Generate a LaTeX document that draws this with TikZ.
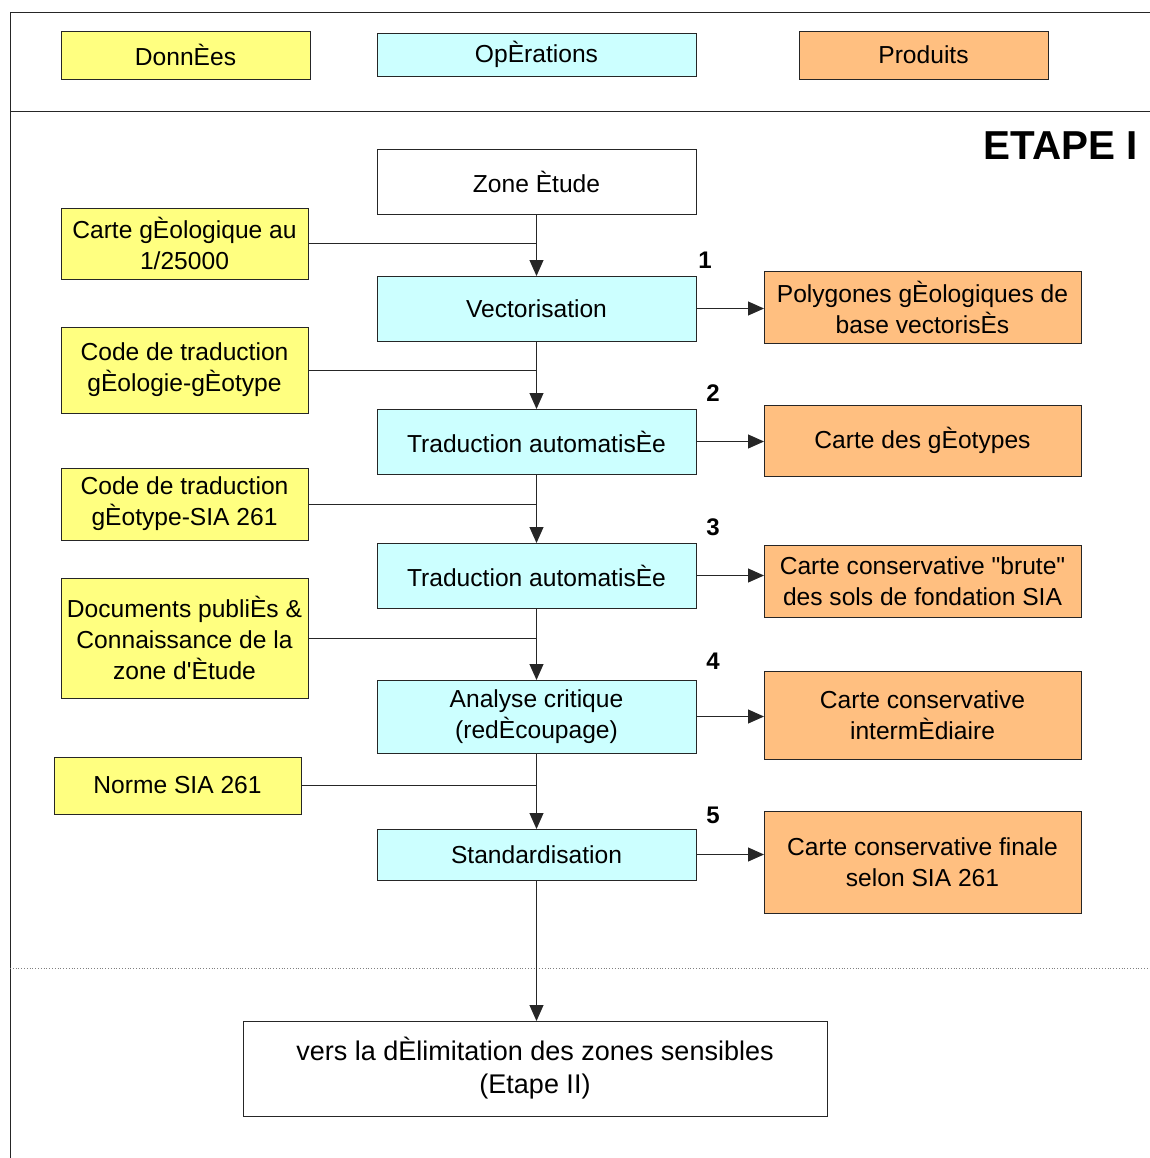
\documentclass[tikz,border=0pt]{standalone}
\usepackage{fontspec}
\setmainfont{Liberation Sans}
\definecolor{donjaune}{HTML}{FFFF80}
\definecolor{opcyan}{HTML}{CCFFFF}
\definecolor{prodorange}{HTML}{FFBF80}
\usetikzlibrary{arrows.meta, positioning}
\tikzset{
	sz/.style 2 args={minimum width=#1*0.5pt, minimum height=#2*0.5pt},
	bnode/.style={draw=black!85, line width=0.5pt, inner sep=0pt, outer sep=0pt,
		align=center, font=\fontsize{12.3}{15.5}\selectfont},
	dnode/.style={bnode, fill=donjaune},
	onode/.style={bnode, fill=opcyan},
	pnode/.style={bnode, fill=prodorange},
	wnode/.style={bnode, fill=white},
	num/.style={font=\fontsize{12}{14}\selectfont\bfseries},
	marr/.style={-{Triangle[length=8pt,width=7pt]}, line width=0.5pt, draw=black!85},
	mlin/.style={line width=0.5pt, draw=black!85}
}

\begin{document}
\begin{tikzpicture}[x=0.5pt, y=-0.5pt]
	\useasboundingbox (0,0) rectangle (1150,1158);
	% cadre
	\draw[mlin] (10,1158) -- (10,12) -- (1150,12);
	\draw[mlin] (10,111) -- (1150,111);
	\draw[gray, line width=0.4pt, densely dotted] (10,968) -- (1150,968);
	% legende
	\node[dnode, sz={249}{48}] (legdon) at (185.5,55) {DonnÈes};
	\node[onode, sz={319}{43}] (legop) at (536.5,54.5) {OpÈrations};
	\node[pnode, sz={249}{48}] (legprod) at (923.5,55) {Produits};
	\node[anchor=east, font=\fontsize{20.2}{22}\selectfont\bfseries] (etape) at (1145,146) {ETAPE I};
	% operations
	\node[wnode, sz={319}{65}] (zone) at (536.5,181.5) {Zone Ètude};
	\node[onode, sz={319}{65}] (vect) at (536.5,308.5) {Vectorisation};
	\node[onode, sz={319}{65}] (tradA) at (536.5,441.5) {Traduction automatisÈe};
	\node[onode, sz={319}{65}] (tradB) at (536.5,575.5) {Traduction automatisÈe};
	\node[onode, sz={319}{73}] (analyse) at (536.5,716.5) {Analyse critique\\(redÈcoupage)};
	\node[onode, sz={319}{51}] (stand) at (536.5,854.5) {Standardisation};
	\node[wnode, sz={584}{95}, font=\fontsize{13.5}{16.5}\selectfont] (vers) at (535,1068.5) {vers la dÈlimitation des zones sensibles\\(Etape II)};
	% donnees
	\node[dnode, sz={247}{71}] (carte) at (184.5,243.5) {Carte gÈologique au\\1/25000};
	\node[dnode, sz={247}{86}] (codeA) at (184.5,370) {Code de traduction\\gÈologie-gÈotype};
	\node[dnode, sz={247}{72}] (codeB) at (184.5,504) {Code de traduction\\gÈotype-SIA 261};
	\node[dnode, sz={247}{120}] (docs) at (184.5,638) {Documents publiÈs \&\\Connaissance de la\\zone d\textquotesingle Ètude};
	\node[dnode, sz={247}{57}] (norme) at (177.5,785.5) {Norme SIA 261};
	% produits
	\node[pnode, sz={317}{72}] (poly) at (922.5,307) {Polygones gÈologiques de\\base vectorisÈs};
	\node[pnode, sz={317}{71}] (geot) at (922.5,440.5) {Carte des gÈotypes};
	\node[pnode, sz={317}{72}] (brute) at (922.5,581) {Carte conservative \textquotedbl brute\textquotedbl\\des sols de fondation SIA};
	\node[pnode, sz={317}{88}] (inter) at (922.5,715) {Carte conservative\\intermÈdiaire};
	\node[pnode, sz={317}{102}] (finale) at (922.5,862) {Carte conservative finale\\selon SIA 261};
	% numeros
	\node[num] (n1) at (705,260) {1};
	\node[num] (n2) at (713,393) {2};
	\node[num] (n3) at (713,527) {3};
	\node[num] (n4) at (713,661) {4};
	\node[num] (n5) at (713,815) {5};
	% fleches
	\draw[marr] (zone) -- (vect);
	\draw[marr] (vect) -- (tradA);
	\draw[marr] (tradA) -- (tradB);
	\draw[marr] (tradB) -- (analyse);
	\draw[marr] (analyse) -- (stand);
	\draw[marr] (stand) -- (vers.north -| stand);
	\draw[mlin] (carte.east) -- (carte.east -| vect);
	\draw[mlin] (codeA.east) -- (codeA.east -| vect);
	\draw[mlin] (codeB.east) -- (codeB.east -| vect);
	\draw[mlin] (docs.east) -- (docs.east -| vect);
	\draw[mlin] (norme.east) -- (norme.east -| vect);
	\draw[marr] (vect.east) -- (vect.east -| poly.west);
	\draw[marr] (tradA.east) -- (tradA.east -| geot.west);
	\draw[marr] (tradB.east) -- (tradB.east -| brute.west);
	\draw[marr] (analyse.east) -- (analyse.east -| inter.west);
	\draw[marr] (stand.east) -- (stand.east -| finale.west);
\end{tikzpicture}
\end{document}
